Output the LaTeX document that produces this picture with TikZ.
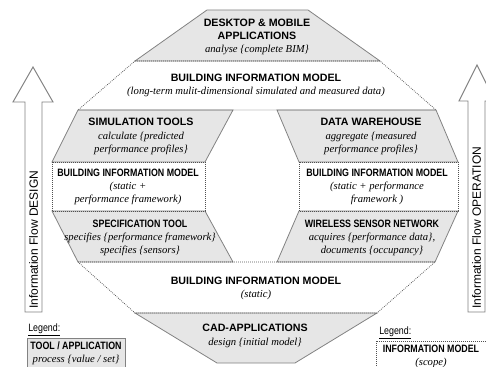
\documentclass[tikz,border=0pt]{standalone}
\usepackage{fontspec}
\setmainfont{Liberation Serif}
\newfontfamily\wsans{Liberation Sans}
\newfontfamily\nsans[FakeStretch=0.83]{Liberation Sans}
\newfontfamily\wserif{Liberation Serif}
\newcommand\fTitle{\wsans\bfseries\fontsize{8}{9.9}\selectfont}
\newcommand\fNarrow{\nsans\bfseries\fontsize{8}{9.9}\selectfont}
\newcommand\fItal{\wserif\itshape\fontsize{8}{9.9}\selectfont}
\definecolor{toolgray}{RGB}{230,230,230}
\definecolor{edgegray}{RGB}{130,130,130}
\definecolor{dotgray}{RGB}{80,80,80}
\tikzset{
  tool/.style={fill=toolgray, draw=edgegray, line width=0.6pt},
  model/.style={draw=dotgray, line width=0.55pt, dash pattern=on 0.6pt off 0.9pt},
  flow/.style={fill=white, draw=edgegray, line width=0.7pt},
  txt/.style={align=center, inner sep=0pt, font=\fontsize{8}{9.9}\selectfont},
  flowtxt/.style={rotate=90, anchor=west, inner sep=0pt, font=\wsans\fontsize{9}{10}\selectfont},
  legtxt/.style={anchor=west, inner sep=0pt, font=\nsans\fontsize{8}{9}\selectfont}
}
\begin{document}
\begin{tikzpicture}[x=0.75pt,y=-0.75pt]
\useasboundingbox (0,0) rectangle (486,367);
\clip (0,0) rectangle (486,367);
% tools / applications
\draw[tool] (207,10) -- (308,10) -- (380,61) -- (135,61) -- cycle;
\draw[tool] (78,110) -- (233,110) -- (205,162) -- (52,162) -- cycle;
\draw[tool] (277,110) -- (436,110) -- (458,162) -- (299,162) -- cycle;
\draw[tool] (52,211) -- (205,211) -- (233,262) -- (78,262) -- cycle;
\draw[tool] (299,211) -- (458,211) -- (435,262) -- (277,262) -- cycle;
\draw[tool] (135,313) -- (377,313) -- (295,363) -- (217,363) -- cycle;
% information models
\draw[model] (135,61) -- (380,61) -- (436,110) -- (78,110) -- cycle;
\draw[model] (52,162) rectangle (205,211);
\draw[model] (299,162) rectangle (458,211);
\draw[model] (78,262) -- (435,262) -- (377,313) -- (135,313) -- cycle;
% information flow arrows
\draw[flow] (25,312) -- (25,102) -- (13,102) -- (33,67) -- (53,102) -- (42,102) -- (42,312) -- cycle;
\draw[flow] (468,312) -- (468,101) -- (459,101) -- (477,65) -- (495,101) -- (485,101) -- (485,312) -- cycle;
\node[flowtxt] (flowL) at (33.5,309) {Information Flow DESIGN};
\node[flowtxt] (flowR) at (476.5,309) {Information Flow OPERATION};
% texts
\node[txt] (desk) at (257,37) {{\fTitle DESKTOP \& MOBILE}\\{\fTitle APPLICATIONS}\\{\fItal analyse \{complete BIM\}}};
\node[txt] (bimtop) at (256,85.5) {{\fTitle BUILDING INFORMATION MODEL}\\{\fItal (long-term mulit-dimensional simulated and measured data)}};
\node[txt] (sim) at (141,136.5) {{\fTitle SIMULATION TOOLS}\\{\fItal calculate \{predicted}\\{\fItal performance profiles\}}};
\node[txt] (dw) at (371,136.5) {{\fTitle DATA WAREHOUSE}\\{\fItal aggregate \{measured}\\{\fItal performance profiles\}}};
\node[txt] (bimL) at (128,187) {{\fNarrow BUILDING INFORMATION MODEL}\\{\fItal (static +}\\{\fItal performance framework)}};
\node[txt] (bimR) at (377,187) {{\fNarrow BUILDING INFORMATION MODEL}\\{\fItal (static + performance}\\{\fItal framework )}};
\node[txt] (spec) at (140,238) {{\fNarrow SPECIFICATION TOOL}\\{\fItal specifies \{performance framework\}}\\{\fItal specifies \{sensors\}}};
\node[txt] (wsn) at (372,238) {{\fNarrow WIRELESS SENSOR NETWORK}\\{\fItal acquires \{performance data\},}\\{\fItal documents \{occupancy\}}};
\node[txt] (bimbot) at (256,288.5) {{\fTitle BUILDING INFORMATION MODEL}\\{\fItal (static)}};
\node[txt] (cad) at (255,336) {{\fTitle CAD-APPLICATIONS}\\{\fItal design \{initial model\}}};
% legends
\node[legtxt] (legL) at (28,330) {\underline{Legend:}};
\draw[tool] (27,338) rectangle (125,372);
\node[txt] (legLt) at (76,353) {{\fNarrow TOOL / APPLICATION}\\{\fItal process \{value / set\}}};
\node[legtxt] (legR) at (379,333) {\underline{Legend:}};
\draw[model] (376,341) rectangle (490,372);
\node[txt] (legRt) at (431,356.5) {{\fNarrow INFORMATION MODEL}\\{\fItal (scope)}};
\end{tikzpicture}
\end{document}
